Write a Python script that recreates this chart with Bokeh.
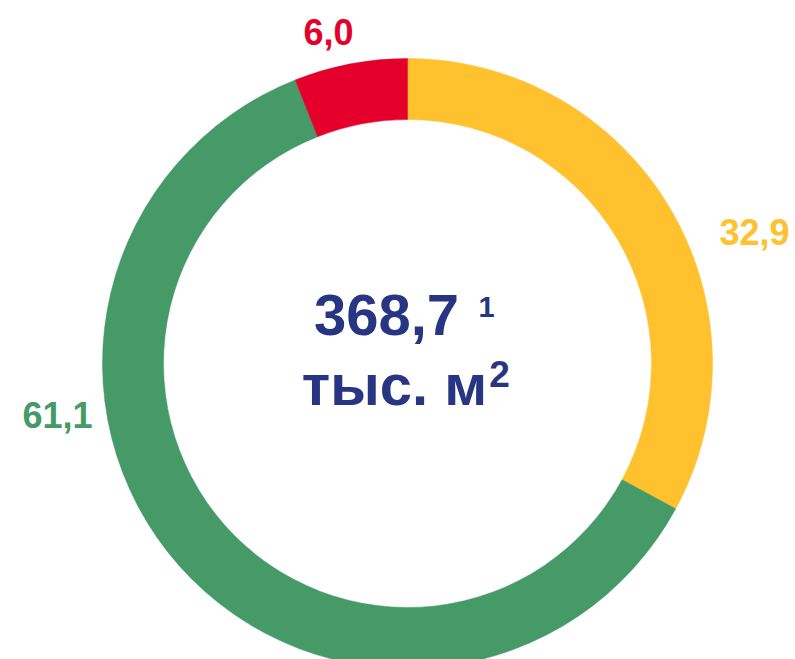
import numpy as np
from bokeh.plotting import figure
from bokeh.models import Range1d, ColumnDataSource
from bokeh.core.properties import value
from bokeh.embed import file_html
from bokeh.resources import INLINE

# Data
categories = ["yellow", "green", "red"]
shares = [32.9, 61.1, 6.0]
labels = ["32,9", "61,1", "6,0"]
colors = ["#FFC12E", "#459A67", "#E4002B"]
total_text = "368,7"
total_note = "1"
unit_text = "тыс. м"
unit_sup = "2"

# Layout (pixel coordinates, y downwards -> negated)
W, H = 795, 659
cx, cy = 407, 363
r_out, r_in = 305, 244
label_x = [754, 57, 328]
label_y = [231, 414, 31]

fracs = np.array(shares) / np.sum(shares)
cum = np.concatenate([[0.0], np.cumsum(fracs)])
start = np.pi / 2 - 2 * np.pi * cum[:-1]
end = np.pi / 2 - 2 * np.pi * cum[1:]

src = ColumnDataSource(dict(cat=categories, start=start, end=end, color=colors,
                            lx=label_x, ly=[-v for v in label_y], label=labels))

p = figure(width=W, height=H, output_backend="svg", toolbar_location=None,
           x_range=Range1d(0, W), y_range=Range1d(-H, 0),
           min_border=0, x_axis_type=None, y_axis_type=None)
p.grid.visible = False
p.outline_line_color = None
p.background_fill_color = "white"
p.border_fill_color = "white"

p.annular_wedge(x=cx, y=-cy, inner_radius=r_in, outer_radius=r_out,
                start_angle="start", end_angle="end", direction="clock",
                fill_color="color", line_color="color", line_width=0.5, source=src)

p.text(x="lx", y="ly", text="label", text_color="color", source=src,
       text_font=value("Liberation Sans"), text_font_style="bold",
       text_font_size="36px", text_align="center", text_baseline="alphabetic")

navy = "#283583"
p.text(x=[386], y=[-314], text=[total_text], text_color=navy,
       text_font=value("Liberation Sans"), text_font_style="bold",
       text_font_size="58px", text_align="center", text_baseline="alphabetic")
p.text(x=[486], y=[-306], text=[total_note], text_color=navy,
       text_font=value("Liberation Sans"), text_font_style="bold",
       text_font_size="29px", text_align="center", text_baseline="alphabetic")
p.text(x=[394], y=[-384], text=[unit_text], text_color=navy,
       text_font=value("Liberation Sans"), text_font_style="bold",
       text_font_size="58px", text_align="center", text_baseline="alphabetic")
p.text(x=[499], y=[-373], text=[unit_sup], text_color=navy,
       text_font=value("Liberation Sans"), text_font_style="bold",
       text_font_size="37px", text_align="center", text_baseline="alphabetic")

open("out.html", "w").write(file_html(p, INLINE))
